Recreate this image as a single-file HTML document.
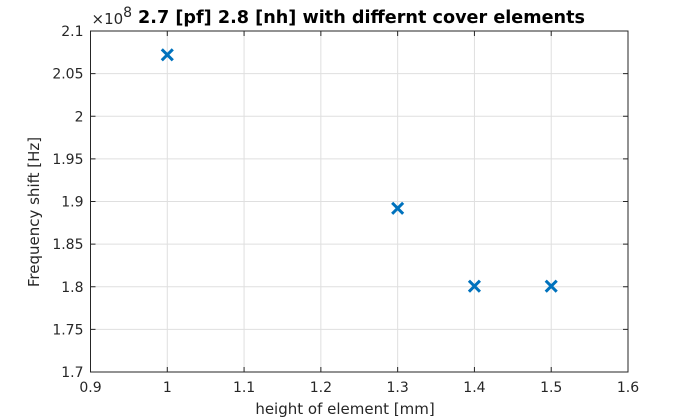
<!DOCTYPE html>
<html><head><meta charset="utf-8"><style>
html,body{margin:0;padding:0;background:#fff;}
svg{display:block;font-family:"DejaVu Sans","Liberation Sans",sans-serif;}
</style></head><body>
<svg id="chart" width="694" height="420" viewBox="0 0 694 420"></svg>
<script>
const xTicks=[0.9,1.0,1.1,1.2,1.3,1.4,1.5,1.6];
const xTickLabels=["0.9","1","1.1","1.2","1.3","1.4","1.5","1.6"];
const yTicks=[1.7,1.75,1.8,1.85,1.9,1.95,2.0,2.05,2.1];
const yTickLabels=["1.7","1.75","1.8","1.85","1.9","1.95","2","2.05","2.1"];
const xValues=[1.0,1.3,1.4,1.5];
const yValues=[2.072,1.892,1.8006,1.8006];

const NS="http://www.w3.org/2000/svg";
const svg=document.getElementById('chart');
const L=90.5,R=628,T=31,B=372;
const xMin=0.9,xMax=1.6,yMin=1.7,yMax=2.1;
function sx(v){return L+(v-xMin)/(xMax-xMin)*(R-L);}
function sy(v){return B-(v-yMin)/(yMax-yMin)*(B-T);}
function mk(tag,attrs,parent){const e=document.createElementNS(NS,tag);for(const k in attrs)e.setAttribute(k,attrs[k]);(parent||svg).appendChild(e);return e;}

const grid=mk('g',{});


xTicks.forEach((v,i)=>{
  const x=sx(v);
  if(i>0&&i<xTicks.length-1){mk('line',{x1:x,x2:x,y1:T,y2:B,stroke:'#dfdfdf','stroke-width':1},grid);}
  mk('line',{x1:x,x2:x,y1:B,y2:B-5,stroke:'#262626','stroke-width':1});
  mk('line',{x1:x,x2:x,y1:T,y2:T+5,stroke:'#262626','stroke-width':1});
  const t=mk('text',{x:x,y:B+20,'text-anchor':'middle','font-size':14,fill:'#262626'});
  t.textContent=xTickLabels[i];
  
  
});
yTicks.forEach((v,i)=>{
  const y=sy(v);
  if(i>0&&i<yTicks.length-1){mk('line',{x1:L,x2:R,y1:y,y2:y,stroke:'#dfdfdf','stroke-width':1},grid);}
  mk('line',{x1:L,x2:L+5,y1:y,y2:y,stroke:'#262626','stroke-width':1});
  mk('line',{x1:R,x2:R-5,y1:y,y2:y,stroke:'#262626','stroke-width':1});
  const t=mk('text',{x:L-7,y:y+5,'text-anchor':'end','font-size':14,fill:'#262626'});
  t.textContent=yTickLabels[i];
  
  
});
const box=mk('rect',{x:L,y:T,width:R-L,height:B-T,fill:'none',stroke:'#262626','stroke-width':1});



xValues.forEach((v,i)=>{
  const x=sx(v),y=sy(yValues[i]),d=5.5;
  const g=mk('path',{d:`M${x-d},${y-d}L${x+d},${y+d}M${x-d},${y+d}L${x+d},${y-d}`,stroke:'#0072bd','stroke-width':3,fill:'none'});
  
  
});

const ex=mk('text',{x:L+1,y:T-7,'font-size':15,fill:'#262626'});
ex.innerHTML='×10<tspan dy="-7" font-size="14">8</tspan>';



const title=mk('text',{x:361.5,y:23,'text-anchor':'middle','font-size':17.5,'font-weight':'bold',fill:'#000',textLength:447,lengthAdjust:'spacingAndGlyphs'});
title.textContent='2.7 [pf] 2.8 [nh] with differnt cover elements';



const xl=mk('text',{x:345,y:414,'text-anchor':'middle','font-size':15,fill:'#262626'});
xl.textContent='height of element [mm]';



const yl=mk('text',{x:0,y:0,'text-anchor':'middle','font-size':15,fill:'#262626',transform:`translate(39,212) rotate(-90)`});
yl.textContent='Frequency shift [Hz]';


</script>
</body></html>
